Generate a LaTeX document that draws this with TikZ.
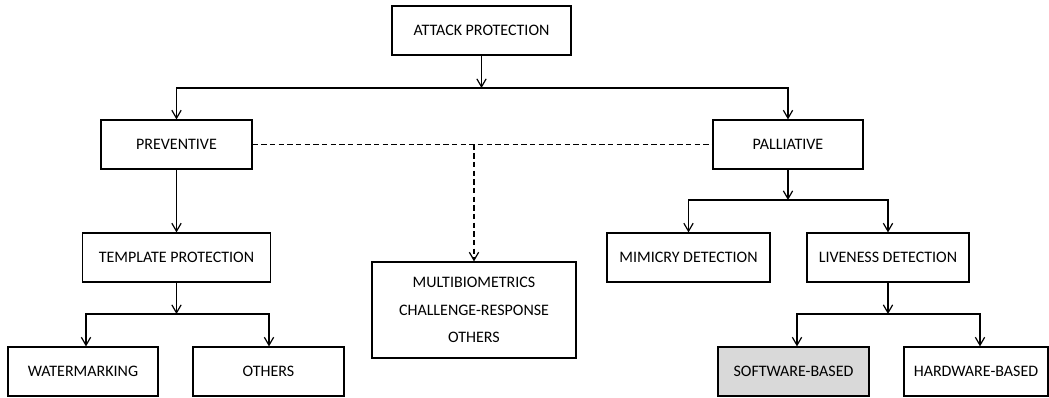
\documentclass[tikz,border=0pt]{standalone}
\usepackage{fontspec}
\setmainfont{Carlito}
\usetikzlibrary{arrows.meta,positioning}
\definecolor{swgray}{HTML}{D9D9D9}
\tikzset{
  box/.style={draw, line width=0.9pt, minimum height=49*0.75pt, inner sep=2pt,
    align=center, font=\fontsize{12}{14}\selectfont},
  wd/.style={minimum width=#1*0.75pt},
  link/.style={-{Straight Barb[length=6pt,width=7pt]}, line width=0.9pt},
  bar/.style={line width=1.3pt, line cap=rect},
  dline/.style={line width=0.9pt, dash pattern=on 4pt off 2.5pt},
}
\begin{document}
\begin{tikzpicture}[x=0.75pt,y=-0.75pt]
  \useasboundingbox (0,0) rectangle (1049,397);
  % boxes
  \node[box,wd=179] (ap) at (481.5,30.5) {ATTACK PROTECTION};
  \node[box,wd=151] (pre) at (176.5,144.5) {PREVENTIVE};
  \node[box,wd=150] (pal) at (788,144.5) {PALLIATIVE};
  \node[box,wd=188] (tpl) at (176.5,257.5) {TEMPLATE PROTECTION};
  \node[box,wd=204,minimum height=96*0.75pt,
    font=\fontsize{12}{20.6}\selectfont] (multi) at (474,310)
    {MULTIBIOMETRICS\\CHALLENGE-RESPONSE\\OTHERS};
  \node[box,wd=163] (mim) at (688.5,257.5) {MIMICRY DETECTION};
  \node[box,wd=162] (liv) at (888,257.5) {LIVENESS DETECTION};
  \node[box,wd=150] (wat) at (83,371.5) {WATERMARKING};
  \node[box,wd=151] (oth) at (268.5,371.5) {OTHERS};
  \node[box,wd=151,fill=swgray] (sw) at (793.5,371.5) {SOFTWARE-BASED};
  \node[box,wd=144] (hw) at (976,371.5) {HARDWARE-BASED};
  % branch points
  \coordinate (b1) at (481.5,88);
  \coordinate (b2) at (788,200);
  \coordinate (b3l) at (86,314);
  \coordinate (b3r) at (269,314);
  \coordinate (b4l) at (797,314);
  \coordinate (b4r) at (980,314);
  % top level
  \draw[link] (ap) -- (b1);
  \draw[bar] (pre.north |- b1) -- (pal.north |- b1);
  \draw[link] (pre.north |- b1) -- (pre.north);
  \draw[link] (pal.north |- b1) -- (pal.north);
  % dashed
  \draw[dline] (pre.east) -- (pal.west);
  \draw[dline,-{Straight Barb[length=6pt,width=7pt]}] (multi.north |- pre.east) -- (multi.north);
  % preventive side
  \draw[link] (pre) -- (tpl);
  \draw[link] (tpl.south) -- (tpl.south |- b3l);
  \draw[bar] (b3l) -- (b3r);
  \draw[link] (b3l) -- (b3l |- wat.north);
  \draw[link] (b3r) -- (b3r |- oth.north);
  % palliative side
  \draw[link] (pal) -- (b2);
  \draw[bar] (mim.north |- b2) -- (liv.north |- b2);
  \draw[link] (mim.north |- b2) -- (mim.north);
  \draw[link] (liv.north |- b2) -- (liv.north);
  \draw[link] (liv) -- (liv.south |- b4l);
  \draw[bar] (b4l) -- (b4r);
  \draw[link] (b4l) -- (b4l |- sw.north);
  \draw[link] (b4r) -- (b4r |- hw.north);
\end{tikzpicture}
\end{document}
